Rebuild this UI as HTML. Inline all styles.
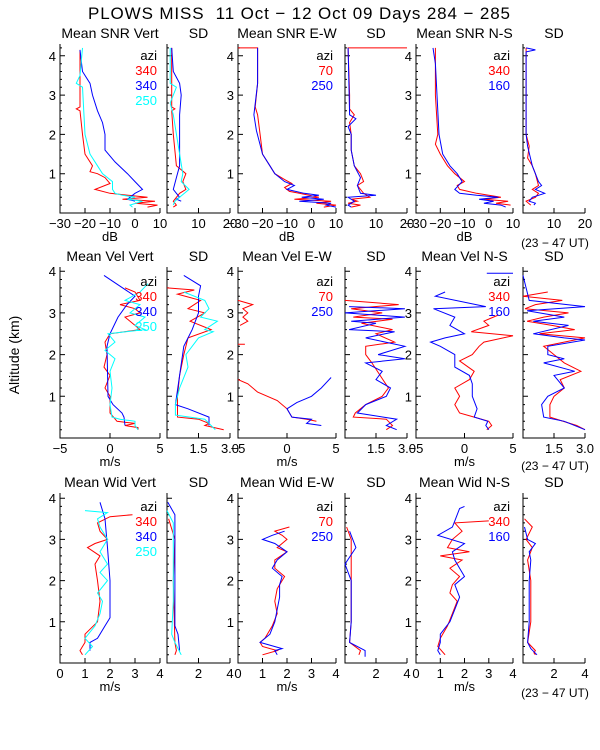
<!DOCTYPE html>
<html><head><meta charset="utf-8">
<style>
html,body{margin:0;padding:0;background:#fff;}
svg{display:block;font-family:"Liberation Sans",sans-serif;}
</style></head>
<body>
<svg id="chart" width="600" height="750" viewBox="0 0 600 750">
<rect width="600" height="750" fill="#fff"/>
<text x="88" y="19" font-size="17" textLength="422" lengthAdjust="spacing" xml:space="preserve">PLOWS MISS  11 Oct − 12 Oct 09 Days 284 − 285</text>
<text x="0" y="0" font-size="14" text-anchor="middle" transform="translate(19,355) rotate(-90)">Altitude (km)</text>
</svg>
<script>
// ---------- DATA ----------
// Row 1: SNR (dB)
const snrVertRedAlt=[4.15,3.3,2.7,2.65,2.6,2.0,1.5,1.2,1.05,1.0,0.9,0.75,0.6,0.5,0.4,0.35,0.3,0.25,0.2,0.15];
const snrVertRedVal=[-22,-22,-22,-23.5,-22,-21,-20,-17,-18,-15,-12,-10,-16,-10,5,-5,8,0,9,5];
const snrVertBlueAlt=[4.15,3.6,3.3,3.0,2.6,2.3,2.0,1.6,1.3,1.0,0.8,0.6,0.5,0.4,0.35,0.3];
const snrVertBlueVal=[-22,-21,-18,-17,-15,-13,-12,-12,-8,-3,0,3,0,-2,-3,0];
const snrVertCyanAlt=[4.2,3.5,3.3,3.2,2.0,1.5,1.2,1.0,0.8,0.6,0.5,0.45,0.4,0.35,0.3,0.2,0.15];
const snrVertCyanVal=[-21,-22,-23.5,-21,-20,-18,-15,-13,-9,-9,-8,-5,0,-3,3,-2,-1];
const sdSnrVertRedAlt=[4.2,3.0,2.7,2.65,2.6,2.0,1.2,1.0,0.8,0.6,0.5,0.3,0.2,0.15];
const sdSnrVertRedVal=[1.5,1.5,1.5,2.5,1.5,2,3,6,5,6,4,2,3,2];
const sdSnrVertBlueAlt=[4.2,3.6,3.3,3.0,2.5,1.2,0.9,0.6,0.5,0.4,0.35,0.3];
const sdSnrVertBlueVal=[1.5,2,4,4.5,4,4,3,2,3,4,3,4.5];
const sdSnrVertCyanAlt=[4.2,3.3,3.2,2.8,2.5,1.0,0.8,0.6,0.4,0.3,0.2];
const sdSnrVertCyanVal=[1,1,3,1,2,5,4.5,7,4,2.5,2];
const snrEWRedAlt=[4.2,4.2,3.3,2.7,2.5,2.0,1.5,1.2,1.0,0.85,0.75,0.65,0.55,0.5,0.4,0.35,0.3,0.25,0.2,0.15];
const snrEWRedVal=[-30,-22,-22,-23,-22,-21,-20,-17,-15,-11,-8,-11,-9,-5,3,-7,8,2,10,5];
const snrEWBlueAlt=[4.2,3.3,2.5,2.1,1.5,1.2,1.0,0.8,0.7,0.6,0.5,0.45,0.4,0.35,0.3,0.25,0.2,0.15];
const snrEWBlueVal=[-22,-22,-23.5,-22.5,-20,-17,-15,-11,-7,-10,-3,3,-4,5,-5,8,6,10];
const sdSnrEWRedAlt=[4.2,4.2,3.0,2.65,2.5,2.3,2.0,1.6,1.2,1.0,0.8,0.7,0.5,0.4,0.35,0.3,0.25,0.2,0.15];
const sdSnrEWRedVal=[20,1,1.5,1.5,3,1.5,2,2,3,5,6,4,6,8,2,4,1,5,2];
const sdSnrEWBlueAlt=[4.2,2.5,2.4,2.2,2.0,1.6,1.2,0.9,0.7,0.5,0.45,0.4,0.3,0.2,0.15];
const sdSnrEWBlueVal=[1,1.5,3.5,1,2,2,3,5,4,5,10,1,3,1,2];
const snrNSRedAlt=[4.2,3.0,2.0,1.75,1.5,1.2,1.0,0.8,0.7,0.6,0.5,0.4,0.35,0.3,0.25,0.2];
const snrNSRedVal=[-22,-22,-21,-22,-20,-17,-14,-10,-13,-12,-5,5,-2,8,3,9];
const snrNSBlueAlt=[4.2,3.8,2.0,1.5,1.2,1.0,0.8,0.6,0.5,0.45,0.4,0.35,0.3,0.25,0.2,0.15];
const snrNSBlueVal=[-23,-22,-20.5,-19,-16,-13,-11,-14,-12,-5,4,-4,2,-2,5,7];
const sdSnrNSRedAlt=[4.2,2.0,1.7,1.4,1.2,1.0,0.7,0.6,0.5,0.4,0.3,0.2];
const sdSnrNSRedVal=[1,1,2,1.5,3,4,5,3,5,4,1,2.5];
const sdSnrNSBlueAlt=[4.2,4.15,4.1,2.0,1.7,1.2,1.0,0.8,0.7,0.6,0.5,0.4,0.3,0.25,0.2];
const sdSnrNSBlueVal=[1,4,1,1,1.5,3,4,5,6,4,7,3,2,4,3.5];
// Row 2: Velocity (m/s)
const velVertBlueAlt=[3.9,3.4,3.2,2.9,2.5,2.2,1.0,0.8,0.6,0.5,0.3];
const velVertBlueVal=[-0.6,2.5,1.7,0.8,0,-0.3,-0.2,0.3,1.2,1.4,1.5];
const velVertRedAlt=[3.6,3.5,3.3,3.2,3.1,3.0,2.9,2.7,2.6,2.5,2.3,2.0,1.7,1.5,1.2,1.0,0.6,0.4,0.35,0.3,0.25,0.2];
const velVertRedVal=[1.5,2.5,3.0,1.0,2.5,3,1.5,2.5,3.0,0,-0.5,-0.3,-0.6,0,-0.5,0,0,0.7,2.5,1.5,2.8,2.8];
const velVertCyanAlt=[3.7,3.5,3.3,3.2,3.0,2.9,2.7,2.6,2.5,2.3,2.1,1.9,1.6,1.2,0.8,0.5,0.45,0.4,0.3,0.2];
const velVertCyanVal=[3.8,3,1.5,3.0,2,3.5,2.5,3.5,-0.2,0.5,-0.5,0.5,0,0.2,0,0.2,1,2.5,2.5,2.8];
const sdVelVertBlueAlt=[3.9,3.65,3.4,3.0,2.6,2.2,1.5,0.8,0.7,0.5,0.3];
const sdVelVertBlueVal=[0.8,1.6,1.5,1.5,1.2,0.8,0.6,0.4,1.0,2.0,2.0];
const sdVelVertRedAlt=[3.6,3.55,3.45,3.3,3.1,3.0,2.8,2.6,2.4,2.0,1.5,1.0,0.5,0.45,0.35,0.3,0.2];
const sdVelVertRedVal=[0,1.3,0.5,1.6,1.0,1.8,1.1,2.1,1.0,0.8,0.6,0.5,0.5,1.5,2.0,1.8,2.7];
const sdVelVertCyanAlt=[3.5,3.3,3.1,2.9,2.8,2.6,2.55,2.4,2.0,1.7,1.2,0.8,0.55,0.45,0.3,0.2];
const sdVelVertCyanVal=[0.8,1.8,2.0,1.6,2.4,1.8,2.2,1.5,0.9,1.0,0.6,0.4,0.4,1.8,2.1,2.3];
const velEWRedAlt=[3.3,3.2,3.1,3.0,2.9,2.8,2.7,null,2.25,2.25,null,1.4,1.3,1.1,0.9,0.7,0.5,0.45,0.4];
const velEWRedVal=[-5,-3.5,-4.5,-4,-4.5,-4,-4.8,null,-5,-4.3,null,-5,-4,-3,-1,0,0.5,2.0,3.0];
const velEWBlueAlt=[1.45,1.2,1.0,0.85,0.7,0.5,0.45,0.35,0.3];
const velEWBlueVal=[4.5,3.5,2.5,1.0,0,0.5,2.5,2.0,3.5];
const sdVelEWRedAlt=[3.3,3.2,3.1,3.0,2.9,2.85,2.75,2.6,2.5,2.3,2.2,2.0,1.8,1.5,1.2,1.0,0.8,0.6,0.5,0.45,0.3,0.2];
const sdVelEWRedVal=[0,2.6,0.3,1.8,0.4,2.3,0.8,2.3,1.5,2.4,1.0,1.0,1.3,1.7,2.1,1.8,1.0,0.5,0.4,2.0,2.3,2.0];
const sdVelEWBlueAlt=[3.15,3.1,3.0,2.9,2.8,2.75,2.6,2.55,2.4,2.2,2.0,1.9,1.8,1.6,1.4,1.2,1.0,0.8,0.6,0.45,0.3,0.2];
const sdVelEWBlueVal=[0.2,2.9,0,2.9,0.3,1.5,0.2,2.4,1.0,2.9,1.6,2.9,1.0,1.8,1.5,2.2,2.0,1.0,0.6,2.5,2.0,2.5];
const velNSBlueAlt=[3.95,3.95,null,3.5,3.4,3.15,3.1,2.9,2.7,2.5,2.4,2.3,2.2,2.0,1.7,1.5,1.3,1.0,0.7,0.5,0.4,0.3,0.2];
const velNSBlueVal=[2.3,5,null,-2,-3,2.2,-3.2,-1,-1.5,0,-2,-3.5,-2.5,-1,-1,0.5,0.8,0.8,1.3,1.0,2.4,2.2,2.5];
const velNSRedAlt=[2.95,2.8,2.7,2.55,2.45,2.3,2.2,2.0,1.85,1.6,1.4,1.2,1.0,0.8,0.6,0.5,0.4,0.3,0.2];
const velNSRedVal=[3.5,2,2.5,0.7,5,2,1.5,0.8,-0.5,1,0.5,-1,-0.5,-1,-0.5,1.0,2.5,2.8,2.3];
const sdVelNSRedAlt=[3.5,3.4,3.3,3.2,3.1,3.0,2.9,2.8,2.7,2.6,2.5,2.4,2.2,2.0,1.8,1.6,1.4,1.2,1.0,0.8,0.5,0.3,0.2];
const sdVelNSRedVal=[1.2,0,1.9,0.6,0.1,2.2,1.0,0.2,1.4,2.5,0.8,3.0,1.0,1.5,2.0,2.8,1.8,2.0,1.5,1.3,1.3,2.6,3.0];
const sdVelNSBlueAlt=[3.9,3.3,3.15,3.05,2.9,2.8,2.7,2.5,2.4,2.35,2.2,2.0,1.9,1.8,1.6,1.5,1.2,1.0,0.8,0.5,0.4,0.2];
const sdVelNSBlueVal=[0,0.3,3.0,0.2,2.0,0.5,2.2,0.5,2.0,3.0,1.2,1.2,2.0,1.0,2.5,1.5,2.0,1.2,0.9,1.0,2.0,3.0];
// Row 3: Width (m/s)
const widVertBlueAlt=[3.9,3.5,2.8,2.0,1.1,0.9,0.6,0.5,0.3];
const widVertBlueVal=[1.6,1.8,1.9,2.0,2.0,1.8,1.5,1.2,1.2];
const widVertRedAlt=[3.6,3.55,3.4,3.2,3.0,2.9,2.8,2.6,2.4,2.0,1.5,1.0,0.7,0.5,0.3,0.2];
const widVertRedVal=[2.9,2.0,1.5,1.6,1.9,1.4,1.1,1.6,1.4,1.5,1.6,1.5,1.0,1.0,0.8,0.9];
const widVertCyanAlt=[3.7,3.65,3.5,3.3,3.0,2.7,2.4,2.2,2.0,1.7,1.5,1.2,0.9,0.6,0.4,0.2];
const widVertCyanVal=[1.0,1.9,1.5,1.6,1.9,1.6,1.9,1.6,1.9,1.5,1.7,1.6,1.4,1.0,1.3,1.0];
const sdWidVertBlueAlt=[3.9,3.6,2.0,0.9,0.7,0.3];
const sdWidVertBlueVal=[0.05,0.5,0.5,0.5,0.7,0.8];
const sdWidVertRedAlt=[3.5,3.0,2.0,0.5,0.3,0.2];
const sdWidVertRedVal=[0.1,0.5,0.4,0.5,0.6,0.5];
const sdWidVertCyanAlt=[3.7,3.4,1.5,0.7,0.5,0.2];
const sdWidVertCyanVal=[0,0.4,0.4,0.3,0.5,0.9];
const widEWRedAlt=[3.3,3.2,3.1,3.0,2.8,2.7,2.5,2.3,2.1,1.8,1.5,1.2,0.9,0.6,0.5,0.4,0.3,0.2];
const widEWRedVal=[2.1,1.5,1.8,2.0,1.6,2.0,1.5,1.5,1.9,1.6,1.5,1.6,1.4,1.1,0.9,1.0,1.6,1.0];
const widEWBlueAlt=[3.2,3.1,3.0,2.9,2.7,2.5,2.3,2.1,1.9,1.6,1.3,1.0,0.7,0.5,0.35,0.3,0.2];
const widEWBlueVal=[1.9,1.4,1.0,1.5,2.0,1.6,1.4,1.8,1.7,1.7,1.6,1.5,1.3,0.9,1.8,1.5,1.6];
const sdWidEWRedAlt=[3.3,3.0,2.7,2.0,1.0,0.5,0.3,0.2];
const sdWidEWRedVal=[0.1,0.4,0.4,0.4,0.4,0.3,1.0,0.9];
const sdWidEWBlueAlt=[3.2,2.8,2.4,2.0,1.0,0.5,0.3,0.15];
const sdWidEWBlueVal=[0.3,0.7,0,0.4,0.4,0.3,1.3,1.3];
const widNSBlueAlt=[3.8,3.75,3.45,3.3,3.1,2.9,2.7,2.5,2.3,2.1,1.9,1.6,1.3,1.0,0.7,0.5,0.3,0.2];
const widNSBlueVal=[2.0,1.8,1.6,1.5,0.9,2.0,1.5,1.6,1.8,2.0,1.6,1.8,1.6,1.4,1.0,1.0,0.9,1.0];
const widNSRedAlt=[3.45,3.4,3.2,3.0,2.8,2.7,2.6,2.5,2.3,2.1,1.9,1.7,1.5,1.2,0.9,0.6,0.4,0.2];
const widNSRedVal=[3.0,1.6,1.9,1.5,1.3,2.2,1.0,1.9,1.4,1.8,1.5,1.4,1.7,1.5,1.3,1.0,0.9,1.2];
const sdWidNSRedAlt=[3.5,3.3,3.0,2.8,2.5,2.0,1.0,0.5,0.3,0.25,0.2];
const sdWidNSRedVal=[0.1,0.6,0.2,0.6,0.3,0.5,0.5,0.3,0.8,0.7,0.8];
const sdWidNSBlueAlt=[3.3,3.0,2.9,2.7,2.5,2.0,1.0,0.5,0.35,0.2];
const sdWidNSBlueVal=[0.1,0.3,0.8,0.4,0.5,0.4,0.4,0.3,0.5,0.9];

const rowTitles=[["Mean SNR Vert","SD","Mean SNR E-W","SD","Mean SNR N-S","SD"],
 ["Mean Vel Vert","SD","Mean Vel E-W","SD","Mean Vel N-S","SD"],
 ["Mean Wid Vert","SD","Mean Wid E-W","SD","Mean Wid N-S","SD"]];
const meanTicks=[[-30,-20,-10,0,10],[-5,0,5],[0,1,2,3,4]];
const meanTickLabels=[["−30","−20","−10","0","10"],["−5","0","5"],["0","1","2","3","4"]];
const sdTicks=[[10,20],[1.5,3.0],[2,4]];
const sdTickLabels=[["10","20"],["1.5","3.0"],["2","4"]];
const unitLabels=["dB","m/s","m/s"];
const vertAzi=["340","340","250"];
const ewAzi=["70","250"];
const nsAzi=["340","160"];
const altTicks=[1,2,3,4];

// ---------- LAYOUT ----------
const NS="http://www.w3.org/2000/svg";
const svg=document.getElementById("chart");
const rows=[{bottom:213,k:39.3,top:44},{bottom:438,k:41.7,top:267},{bottom:663,k:41.2,top:493}];
const cols=[[60,160],[167,230],[238,336],[345,407],[416,513],[523,585]];
const xDomains=[[[-30,10],[0,20],[-30,10],[0,20],[-30,10],[0,20]],
 [[-5,5],[0,3],[-5,5],[0,3],[-5,5],[0,3]],
 [[0,4],[0,4],[0,4],[0,4],[0,4],[0,4]]];
const RED="#ff0000",BLUE="#0000ff",CYAN="#00ffff";
const series=[
 [[[snrVertRedAlt,snrVertRedVal,RED],[snrVertBlueAlt,snrVertBlueVal,BLUE],[snrVertCyanAlt,snrVertCyanVal,CYAN]],
  [[sdSnrVertRedAlt,sdSnrVertRedVal,RED],[sdSnrVertBlueAlt,sdSnrVertBlueVal,BLUE],[sdSnrVertCyanAlt,sdSnrVertCyanVal,CYAN]],
  [[snrEWRedAlt,snrEWRedVal,RED],[snrEWBlueAlt,snrEWBlueVal,BLUE]],
  [[sdSnrEWRedAlt,sdSnrEWRedVal,RED],[sdSnrEWBlueAlt,sdSnrEWBlueVal,BLUE]],
  [[snrNSRedAlt,snrNSRedVal,RED],[snrNSBlueAlt,snrNSBlueVal,BLUE]],
  [[sdSnrNSRedAlt,sdSnrNSRedVal,RED],[sdSnrNSBlueAlt,sdSnrNSBlueVal,BLUE]]],
 [[[velVertRedAlt,velVertRedVal,RED],[velVertBlueAlt,velVertBlueVal,BLUE],[velVertCyanAlt,velVertCyanVal,CYAN]],
  [[sdVelVertRedAlt,sdVelVertRedVal,RED],[sdVelVertBlueAlt,sdVelVertBlueVal,BLUE],[sdVelVertCyanAlt,sdVelVertCyanVal,CYAN]],
  [[velEWRedAlt,velEWRedVal,RED],[velEWBlueAlt,velEWBlueVal,BLUE]],
  [[sdVelEWRedAlt,sdVelEWRedVal,RED],[sdVelEWBlueAlt,sdVelEWBlueVal,BLUE]],
  [[velNSRedAlt,velNSRedVal,RED],[velNSBlueAlt,velNSBlueVal,BLUE]],
  [[sdVelNSRedAlt,sdVelNSRedVal,RED],[sdVelNSBlueAlt,sdVelNSBlueVal,BLUE]]],
 [[[widVertRedAlt,widVertRedVal,RED],[widVertBlueAlt,widVertBlueVal,BLUE],[widVertCyanAlt,widVertCyanVal,CYAN]],
  [[sdWidVertRedAlt,sdWidVertRedVal,RED],[sdWidVertBlueAlt,sdWidVertBlueVal,BLUE],[sdWidVertCyanAlt,sdWidVertCyanVal,CYAN]],
  [[widEWRedAlt,widEWRedVal,RED],[widEWBlueAlt,widEWBlueVal,BLUE]],
  [[sdWidEWRedAlt,sdWidEWRedVal,RED],[sdWidEWBlueAlt,sdWidEWBlueVal,BLUE]],
  [[widNSRedAlt,widNSRedVal,RED],[widNSBlueAlt,widNSBlueVal,BLUE]],
  [[sdWidNSRedAlt,sdWidNSRedVal,RED],[sdWidNSBlueAlt,sdWidNSBlueVal,BLUE]]]
];

function mk(tag,attrs,parent){const e=document.createElementNS(NS,tag);for(const k in attrs)e.setAttribute(k,attrs[k]);(parent||svg).appendChild(e);return e;}
function txt(x,y,s,color,anchor,size,parent){const t=mk("text",{x:x,y:y,"font-size":size||13,fill:color||"#000","text-anchor":anchor||"middle"},parent);t.textContent=s;return t;}

rows.forEach((row,ri)=>{
  const yScale=a=>row.bottom-a*row.k;
  cols.forEach((c,ci)=>{
    const g=mk("g",{});
    
    
    const dom=xDomains[ri][ci];
    const xScale=v=>c[0]+(v-dom[0])/(dom[1]-dom[0])*(c[1]-c[0]);
    const tt=txt((c[0]+c[1])/2,row.top-6,rowTitles[ri][ci],"#000","middle",14,g);
    
    
    const ax=mk("path",{d:`M${c[0]},${row.top}V${row.bottom}H${c[1]}`,stroke:"#000","stroke-width":1,fill:"none"},g);
    
    
    let d="";
    for(let a=0.2;yScale(a)>=row.top;a+=0.2){
      const y=yScale(a).toFixed(1);const major=Math.abs(a-Math.round(a))<0.01;
      d+=`M${c[0]},${y}h${major?5:2}`;
    }
    const isMean=ci%2===0;
    const xt=isMean?meanTicks[ri]:sdTicks[ri];
    const xl=isMean?meanTickLabels[ri]:sdTickLabels[ri];
    xt.forEach((v,i)=>{const x=xScale(v).toFixed(1);d+=`M${x},${row.bottom}v-5`;
      const l=txt(x,row.bottom+15,xl[i],"#000","middle",13,g);
      
      });
    const tk=mk("path",{d:d,stroke:"#000","stroke-width":1,fill:"none"},g);
    
    
    if(isMean){
      altTicks.forEach(a=>{const l=txt(c[0]-4,yScale(a)+5,String(a),"#000","end",13,g);
        
        });
      const u=txt((c[0]+c[1])/2,row.bottom+28,unitLabels[ri],"#000","middle",13,g);
      
      
    }
    series[ri][ci].forEach(s=>{
      const alts=s[0],vals=s[1];let p="",pen=false;
      for(let i=0;i<alts.length;i++){
        if(alts[i]===null||vals[i]===null){pen=false;continue;}
        p+=(pen?"L":"M")+xScale(vals[i]).toFixed(1)+","+yScale(alts[i]).toFixed(1);pen=true;
      }
      const ln=mk("path",{d:p,stroke:s[2],"stroke-width":1,fill:"none"},g);
      
      
    });
    if(isMean){
      const az=ci===0?vertAzi:(ci===2?ewAzi:nsAzi);
      const colors=ci===0?[RED,BLUE,CYAN]:[RED,BLUE];
      const lx=c[1]-3;
      const lg=mk("g",{},g);
      
      
      const base=ri===0?60:(ri===1?286:511);
      txt(lx,base,"azi","#000","end",13,lg);
      az.forEach((a,i)=>{const e=txt(lx,base+15*(i+1),a,colors[i],"end",13,lg);
        
        });
    }
  });
  const ut=txt(555,[247,470,697][ri],"(23 − 47 UT)","#000","middle",12);
  
  
});
</script>
</body></html>
